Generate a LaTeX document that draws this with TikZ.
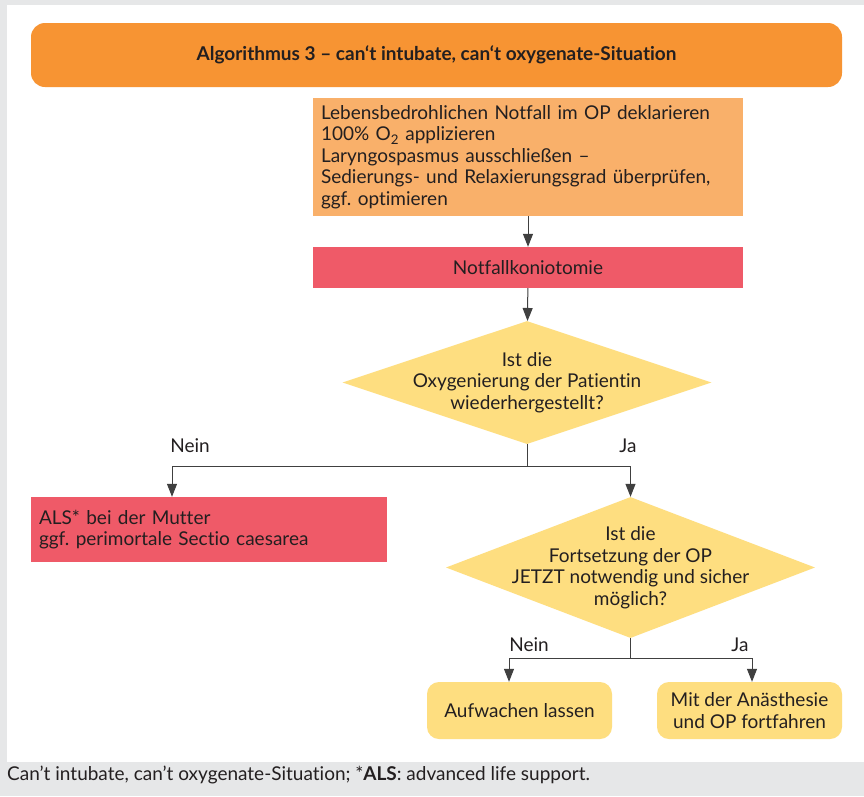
\documentclass[tikz,border=0pt]{standalone}
\usepackage{fontspec}
\setmainfont{Lato}[Ligatures={NoCommon}]
\usetikzlibrary{arrows.meta,shapes.geometric}
\frenchspacing

\definecolor{pagegray}{RGB}{230,231,232}
\definecolor{titleorange}{RGB}{247,148,51}
\definecolor{lightorange}{RGB}{249,176,106}
\definecolor{alarmred}{RGB}{239,90,104}
\definecolor{decyellow}{RGB}{254,222,128}
\definecolor{linegray}{RGB}{64,64,64}
\definecolor{textdark}{RGB}{35,31,32}

\begin{document}
\begin{tikzpicture}[x=1pt, y=-1pt, >={Triangle[width=10pt,length=13pt]},
    txt/.style={text=textdark, font=\fontsize{19}{21.5}\selectfont},
    box/.style={txt, minimum width=430pt, inner sep=0pt},
    decision/.style={diamond, fill=decyellow, minimum width=369pt, minimum height=123pt, inner sep=0pt},
    endbox/.style={txt, fill=decyellow, rounded corners=12pt, minimum width=185pt, minimum height=57pt, inner sep=0pt, align=center},
    flow/.style={draw=linegray, line width=1pt}]
    \useasboundingbox (0,0) rectangle (864,796);

    % Background and panel
    \fill[pagegray] (0,0) rectangle (864,796);
    \fill[white] (7,5) rectangle (864,762);

    % Title
    \node[fill=titleorange, rounded corners=14pt, minimum width=811pt, minimum height=64pt,
          text=textdark, font=\fontsize{19}{22}\selectfont\bfseries] (title) at (436.5,55)
        {Algorithmus 3 – can‘t intubate, can‘t oxygenate-Situation};

    % First steps
    \node[box, fill=lightorange, minimum height=118pt, text width=414pt, align=left] (declare) at (528,157)
        {Lebensbedrohlichen Notfall im OP deklarieren\\
         100\% O\textsubscript{2} applizieren\\
         Laryngospasmus ausschließen –\\
         Sedierungs- und Relaxierungsgrad überprüfen,\\
         ggf. optimieren};
    \node[box, fill=alarmred, minimum height=41pt] (konio) at (528,267.5) {Notfallkoniotomie};

    % First decision
    \node[decision] (oxy) at (527,382.5) {};
    \node[txt, align=center] (oxytext) at (oxy) {Ist die\\Oxygenierung der Patientin\\wiederhergestellt?};

    \node[txt, fill=alarmred, minimum width=356pt, minimum height=65pt, inner sep=0pt,
          text width=340pt, align=left] (als) at (209,529.5)
        {ALS* bei der Mutter\\ggf. perimortale Sectio caesarea};

    % Second decision
    \node[decision, minimum height=141pt] (cont) at (630.5,567.5) {};
    \node[txt, align=center] (conttext) at (cont) {Ist die\\Fortsetzung der OP\\JETZT notwendig und sicher\\möglich?};

    % Outcomes
    \node[endbox] (wake) at (519.5,710.5) {Aufwachen lassen};
    \node[endbox] (goon) at (749.5,710.5) {Mit der Anästhesie\\und OP fortfahren};

    % Connectors
    \draw[flow, ->] (declare) -- (konio);
    \draw[flow, ->] (konio) -- (oxy);

    \coordinate (split1) at (527,466);
    \coordinate (nein1) at (172,466);
    \coordinate (ja1) at (630.5,466);
    \draw[flow] (oxy.south) -- (split1);
    \draw[flow, ->] (split1) -- (nein1) -- (nein1 |- als.north);
    \draw[flow, ->] (split1) -- (ja1) -- (cont.north);
    \node[txt] (nein1label) at (190,446) {Nein};
    \node[txt] (ja1label) at (628,446) {Ja};

    \coordinate (split2) at (630.5,658);
    \coordinate (nein2) at (509,658);
    \coordinate (ja2) at (752,658);
    \draw[flow] (cont.south) -- (split2);
    \draw[flow, ->] (split2) -- (nein2) -- (nein2 |- wake.north);
    \draw[flow, ->] (split2) -- (ja2) -- (ja2 |- goon.north);
    \node[txt] (nein2label) at (529,645) {Nein};
    \node[txt] (ja2label) at (740,645) {Ja};

    % Caption
    \node[txt, anchor=west, inner sep=0pt] (caption) at (7,775)
        {Can’t intubate, can’t oxygenate-Situation; *\textbf{ALS}: advanced life support.};
\end{tikzpicture}
\end{document}
